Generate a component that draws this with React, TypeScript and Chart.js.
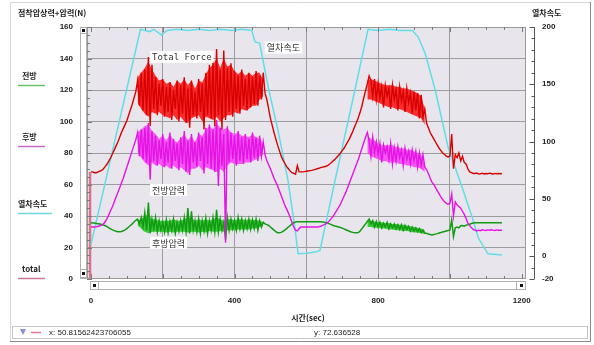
import React, { useEffect, useRef } from "react";
import { Chart, registerables } from "chart.js";

Chart.register(...registerables);

// sampling step of the recorded series (sec)
const TIME_STEP = 5;

// Total Force (left axis, N) – 0 … 1145 s
const totalForce = [
  68, 68, 67.5, 67.5, 68, 68.5, 69, 70, 71.5, 73,
  75, 77, 79.5, 82, 84.5, 87, 90, 93, 95.5, 98,
  100.5, 104, 107.5, 111, 115, 119, 126, 110, 131, 107,
  133, 104, 141, 97, 136, 108, 128, 104, 124, 110,
  127, 103, 122, 106, 125, 101, 120, 108, 126, 100,
  123, 105, 128, 99, 121, 96, 126, 104, 119, 102,
  127, 106, 124, 95, 131, 104, 136, 102, 138, 97,
  146, 104, 133, 95, 145, 101, 134, 106, 137, 103,
  132, 108, 129, 105, 133, 110, 127, 107, 131, 109,
  128, 111, 132, 110, 129, 114, 131, 118, 114, 108,
  102, 97.5, 93, 89, 85, 81.5, 78, 75.5, 73.5, 71.5,
  70, 68.5, 67.5, 67, 66.5, 72, 68, 68, 68, 68.2,
  68.4, 68.6, 68.8, 69, 69.3, 69.6, 70, 70.3, 70.7, 71,
  71.3, 71.6, 72.2, 73, 74, 75, 76, 77.3, 78.6, 80,
  81.5, 83, 85, 87, 89, 91.5, 94, 97, 99.5, 102.5,
  106, 110, 115, 119.5, 124, 129, 126, 116, 127, 114,
  124, 115, 122, 109, 123, 116, 121, 108, 123, 114,
  120, 107, 122, 113, 119, 106, 121, 112, 118, 105,
  119, 107, 118, 102, 117, 103, 108, 99, 96, 93,
  91, 89, 87, 85, 83, 81.5, 80, 79, 78, 77.5,
  78, 92, 70, 79, 77, 80, 75, 78, 74, 73,
  70, 68, 67.5, 67, 67, 67.3, 66.6, 66.8, 67.2, 66.7,
  67, 66.8, 67.2, 67, 66.5, 67, 66.8, 67, 66.8, 67,
];

// 후방 (magenta, left axis)
const rearPressure = [
  33, 33, 33, 33.2, 33.5, 33.8, 34.2, 35, 36.5, 38.5,
  41, 43.5, 46, 49, 52, 55, 58, 61, 64, 67.5,
  71, 74.5, 78, 81.5, 85, 88.5, 93, 78, 95, 76,
  96, 74, 99, 63, 94, 75, 91, 72, 88, 76,
  92, 71, 87, 74, 93, 70, 89, 75, 86, 69,
  90, 73, 94, 68, 88, 66, 92, 74, 87, 71,
  93, 75, 90, 67, 96, 73, 98, 70, 95, 68,
  101, 59, 96, 72, 92, 23, 97, 74, 93, 76,
  91, 72, 94, 75, 90, 73, 92, 76, 89, 74,
  93, 77, 90, 75, 91, 78, 87, 79, 75, 72.5,
  70, 67, 64, 61.5, 59, 56, 53, 50, 47, 44.5,
  42, 39, 36, 33, 31, 30.5, 32, 33, 33, 33,
  33, 33, 33, 33, 33, 33, 33, 33.2, 33.5, 34,
  34.5, 35.2, 36, 37.2, 38.5, 40, 41.8, 43.5, 45.5, 47.5,
  50, 52.5, 55, 58, 61, 64, 67, 70, 73, 76,
  79.5, 83, 86.5, 90, 93, 88, 78, 90, 80, 87,
  79, 86, 74, 85, 80, 84, 76, 86, 73, 83,
  75, 84, 77, 82, 72, 83, 76, 81, 73, 82,
  75, 81, 71, 80, 72, 79, 71, 69.5, 67, 64,
  61.5, 60, 58, 56, 54, 52, 50.5, 49, 48, 47.5,
  48, 54, 40, 49, 47, 46, 45, 43, 41, 38.5,
  35.5, 34, 32.5, 31.5, 31, 30.5, 31, 30.7, 31.3, 31,
  30.8, 31.2, 31, 31.3, 31, 30.8, 31.2, 31, 31, 31,
];

// 전방 (green, left axis)
const frontPressure = [
  35.7, 35.6, 35.5, 35.3, 35.1, 34.9, 34.6, 34.3, 33.8, 33.2,
  32.5, 31.8, 31.2, 30.7, 30.3, 30, 30, 30.2, 30.6, 31.2,
  32, 33, 34, 35, 36.2, 37.3, 38, 35, 39, 33,
  42, 31, 48.5, 29, 38, 32, 39, 30, 37, 31,
  36, 30, 37.5, 29.5, 36.5, 31, 38, 29, 36, 30.5,
  37, 31, 39, 30, 45, 29, 43, 31, 37, 30,
  38, 29, 37, 30.5, 38.5, 29, 37, 31, 39, 30,
  44, 30, 38, 31, 36, 25, 39, 31, 38, 32,
  37, 31, 39, 32, 38, 31, 37, 32, 38, 31.5,
  37.5, 32, 38, 31, 37, 33, 36, 35, 34.5, 34,
  33, 32, 31, 30, 29.4, 29.3, 29.6, 30.3, 31, 32,
  33, 34, 35, 35.7, 36.2, 36.3, 36.3, 36.3, 36.3, 36.3,
  36.3, 36.3, 36.3, 36.3, 36.3, 36.3, 36.3, 36.3, 36.3, 36.2,
  36.1, 35.8, 35.4, 35, 34.5, 34, 33.6, 33.3, 33, 32.7,
  32.3, 31.8, 31.3, 30.8, 30.3, 29.9, 29.6, 29.4, 29.3, 29.5,
  30.5, 32, 33.5, 35, 36.5, 38, 35, 37, 33, 36.5,
  33, 36, 32.5, 35.5, 33, 36, 32, 35, 32.5, 35,
  32, 34.5, 31.5, 34.5, 31, 34, 31.5, 33.5, 30.5, 33,
  30.5, 32.5, 30, 32, 29.5, 31, 29, 29, 28.5, 28.3,
  28, 28.2, 28.5, 28.8, 29.2, 29.5, 29.9, 30.2, 30.5, 30.8,
  31, 37.5, 27, 32.5, 33, 32.5, 33.8, 34, 33.5, 34.2,
  34.4, 34.8, 35.2, 35.5, 35.7, 35.7, 35.7, 35.7, 35.7, 35.7,
  35.7, 35.7, 35.7, 35.7, 35.7, 35.7, 35.7, 35.7, 35.7, 35.7,
];

// noise envelopes (upper / lower) of the noisy stretches
const bandTimesA = [
  130, 140, 150, 160, 170, 180, 190, 200, 210, 220, 230, 240, 250, 260, 270, 280, 290, 300,
  310, 320, 330, 340, 350, 360, 370, 380, 390, 400, 410, 420, 430, 440, 450, 460, 470, 480,
];
const totalHighA = [
  128, 131, 134, 138, 133, 129, 126, 127, 124, 125, 122, 126, 124, 127, 123, 126, 121, 126,
  125, 130, 134, 136, 140, 134, 140, 135, 136, 132, 130, 132, 129, 131, 129, 131, 131, 126,
];
const totalLowA = [
  112, 108, 105, 103, 106, 105, 106, 104, 103, 102, 104, 101, 103, 100, 99, 102, 103, 104,
  100, 103, 102, 101, 103, 100, 102, 104, 104, 106, 105, 108, 107, 108, 110, 110, 114, 116,
];
const rearHighA = [
  93, 95, 97, 98, 94, 92, 89, 91, 88, 92, 88, 87, 89, 92, 88, 91, 87, 92,
  91, 95, 97, 95, 99, 96, 95, 96, 93, 92, 93, 91, 91, 90, 92, 90, 89, 86,
];
const rearLowA = [
  80, 77, 74, 72, 74, 72, 73, 71, 72, 70, 72, 70, 71, 69, 67, 70, 70, 72,
  69, 71, 70, 69, 68, 70, 68, 72, 74, 73, 73, 73, 74, 74, 75, 76, 78, 79,
];
const frontHighA = [
  37, 38, 40, 41, 38, 38, 37, 37, 37, 37, 38, 37, 37, 38, 39, 39, 37, 38,
  37, 38, 37, 38, 39, 38, 37, 38, 38, 37.5, 38, 38, 37.5, 38, 37.5, 37.5, 37, 36,
];
const frontLowA = [
  34, 32, 30, 29, 30, 30, 30, 30, 29.5, 30, 29.5, 30, 30, 30, 29.5, 30, 30, 29.5,
  30, 29.5, 30.5, 30, 30, 30.5, 30, 31, 31, 31, 31.5, 31.5, 31.5, 31.5, 32, 32, 33, 34,
];
const bandTimesB = [770, 780, 790, 800, 810, 820, 830, 840, 850, 860, 870, 880, 890, 900, 910, 920, 930];
const totalHighB = [126, 127, 126, 125, 124, 123, 123, 123, 122, 122, 121, 121, 120, 119, 118, 116, 108];
const totalLowB = [114, 114, 113, 112, 111, 110, 109, 109, 108, 108, 107, 106, 105, 104, 103, 102, 98];
const rearHighB = [91, 89, 88, 86, 85, 85, 85, 85, 84, 83, 83, 82, 82, 81, 80, 79, 72];
const rearLowB = [80, 78, 77, 76, 75, 75, 74, 74, 74, 73, 73, 72, 72, 71, 71, 70, 68];
const frontHighB = [37, 37, 36.5, 36, 36, 35.5, 35.5, 35, 35, 34.5, 34.5, 34, 33.5, 33, 32.5, 32, 31];
const frontLowB = [33, 33, 32.5, 32.5, 32, 32, 31.5, 31.5, 31, 31, 30.5, 30.5, 30, 29.5, 29.5, 29, 28.5];

// 열차속도 (cyan, right axis)
const speedTimes = [
  0, 138, 150, 163, 175, 197, 212, 240, 270, 300, 330, 360, 390, 420, 448,
  457, 470, 494, 521, 549, 568, 577, 600, 625, 638, 680, 727, 772, 800, 830,
  860, 896, 912, 931, 959, 995, 1034, 1062, 1079, 1106, 1145,
];
const speedValues = [
  10, 198, 197, 196, 198, 193, 197, 198, 197, 198, 197, 198, 197, 198, 197,
  187, 186, 147, 110, 66, 25, 2, 2.5, 3.5, 5, 66, 133, 198, 197, 198,
  197, 197, 191, 177, 145, 95, 60, 34, 16, 2, 1,
];

// "total" trace at the left edge
const totalTimes = [-2.5, -2.5];
const totalValues = [0, 68];

const xTickValues = [0, 200, 400, 600, 800, 1000, 1200];
const xLabelValues = [0, 400, 800, 1200];
const leftTickValues = [0, 20, 40, 60, 80, 100, 120, 140, 160];
const rightTickValues = [-20, 0, 50, 100, 150, 200];

const legendNames = ["전방", "후방", "열차속도", "total"];
const leftTitle = "점착압상력+압력(N)";
const rightTitle = "열차속도";
const xTitle = "시간(sec)";
const annotations = [
  { text: "Total Force", t: 170, v: 141, mono: true },
  { text: "열차속도", t: 490, v: 147, mono: false },
  { text: "전방압력", t: 170, v: 56.5, mono: false },
  { text: "후방압력", t: 170, v: 23, mono: false },
];
const statusX = "x: 50.81562423706055";
const statusY = "y: 72.636528";

const COLORS = {
  red: "#d80000",
  redFill: "rgba(248,30,30,0.92)",
  magenta: "#e414e4",
  magentaFill: "rgba(246,70,246,0.9)",
  green: "#139a13",
  greenFill: "rgba(40,196,40,0.9)",
  cyan: "#62dde6",
  total: "rgba(214,96,120,0.85)",
};

const KR = "'Noto Sans CJK KR', 'Liberation Sans', sans-serif";
const SANS = "'Liberation Sans', Arial, sans-serif";

const decor = {
  id: "decor",
  beforeDraw(chart: any) {
    const { ctx, chartArea: a, width, height } = chart;
    ctx.save();
    ctx.fillStyle = "#ffffff";
    ctx.fillRect(0, 0, width, height);
    ctx.lineWidth = 1;
    ctx.strokeStyle = "#d6d6d6";
    ctx.beginPath();
    ctx.moveTo(10.5, 341);
    ctx.lineTo(10.5, 2.5);
    ctx.lineTo(590, 2.5);
    ctx.stroke();
    ctx.strokeStyle = "#8a8a8a";
    ctx.beginPath();
    ctx.moveTo(590.5, 2);
    ctx.lineTo(590.5, 341.5);
    ctx.lineTo(10, 341.5);
    ctx.stroke();
    ctx.fillStyle = "#e8e6ec";
    ctx.fillRect(a.left, a.top, a.right - a.left, a.bottom - a.top);
    ctx.restore();
  },
  afterDatasetsDraw(chart: any) {
    const { ctx, chartArea: a, scales } = chart;
    const xs = scales.x;
    const yl = scales.y;
    const yr = scales.y1;
    ctx.save();
    ctx.strokeStyle = "#9a9a9a";
    ctx.lineWidth = 1;
    ctx.strokeRect(a.left + 0.5, a.top + 0.5, a.right - a.left - 1, a.bottom - a.top - 1);
    ctx.strokeStyle = "#7a7a7a";
    ctx.beginPath();
    for (let v = 0; v <= 160; v += 5) {
      const y = Math.round(yl.getPixelForValue(v)) + 0.5;
      const len = v % 20 === 0 ? 5 : 3;
      ctx.moveTo(a.left, y);
      ctx.lineTo(a.left + len, y);
    }
    for (let t = 0; t <= 1200; t += 50) {
      const x = Math.round(xs.getPixelForValue(t)) + 0.5;
      const len = t % 200 === 0 ? 5 : 3;
      ctx.moveTo(x, a.top);
      ctx.lineTo(x, a.top + len);
      ctx.moveTo(x, a.bottom);
      ctx.lineTo(x, a.bottom - len);
    }
    ctx.stroke();
    const rx = 534.5;
    ctx.strokeStyle = "#555";
    ctx.beginPath();
    ctx.moveTo(rx, a.top);
    ctx.lineTo(rx, a.bottom);
    for (let s = -20; s <= 200; s += 10) {
      const y = Math.round(yr.getPixelForValue(s)) + 0.5;
      const major = rightTickValues.includes(s);
      ctx.moveTo(rx, y);
      ctx.lineTo(rx - (major ? 5 : 3), y);
    }
    ctx.stroke();
    for (const an of annotations) {
      const x = xs.getPixelForValue(an.t);
      const y = yl.getPixelForValue(an.v);
      ctx.font = an.mono ? "9px 'DejaVu Sans Mono', monospace" : `9px ${KR}`;
      const w = ctx.measureText(an.text).width;
      ctx.fillStyle = "#ffffff";
      ctx.fillRect(x - 2, y - 6, w + 4, 12);
      ctx.fillStyle = "#333";
      ctx.textBaseline = "middle";
      ctx.textAlign = "left";
      ctx.fillText(an.text, x, y + 0.5);
    }
    ctx.restore();
  },
  afterDraw(chart: any) {
    const { ctx, chartArea: a } = chart;
    ctx.save();
    ctx.textBaseline = "middle";
    ctx.fillStyle = "#222";
    ctx.font = `bold 8px ${KR}`;
    ctx.textAlign = "left";
    ctx.fillText(leftTitle, 18, 13);
    ctx.fillText(rightTitle, 532, 13);
    ctx.textAlign = "center";
    ctx.fillText(xTitle, 308, 318);
    const legendColors = ["#66c066", "#c868c8", "#6cd8e0", "#c87890"];
    const legendY = [76, 137, 204, 269];
    legendNames.forEach((name, i) => {
      ctx.fillStyle = "#222";
      ctx.font = `bold 8px ${KR}`;
      ctx.textAlign = "left";
      ctx.fillText(name, i === 2 ? 18 : 22, legendY[i]);
      ctx.strokeStyle = legendColors[i];
      ctx.lineWidth = 1.5;
      ctx.beginPath();
      ctx.moveTo(18, legendY[i] + 9.5);
      ctx.lineTo(i === 2 ? 52 : 45, legendY[i] + 9.5);
      ctx.stroke();
    });
    ctx.lineWidth = 1;
    ctx.strokeStyle = "#b0b0b0";
    ctx.fillStyle = "#ffffff";
    ctx.fillRect(80, a.top, 6, a.bottom - a.top);
    ctx.strokeRect(80.5, a.top + 0.5, 6, a.bottom - a.top - 1);
    ctx.strokeRect(80.5, a.top + 0.5, 6, 6);
    ctx.strokeRect(80.5, a.bottom - 9.5, 6, 8);
    ctx.fillStyle = "#111";
    ctx.fillRect(82, a.top + 2, 3, 3);
    ctx.fillRect(82, a.bottom - 7, 3, 3);
    ctx.fillStyle = "#ffffff";
    ctx.fillRect(90, 281, a.right - 90, 8);
    ctx.strokeRect(90.5, 281.5, a.right - 91, 8);
    ctx.strokeRect(90.5, 281.5, 8, 8);
    ctx.strokeRect(a.right - 9.5, 281.5, 9, 8);
    ctx.fillStyle = "#111";
    ctx.fillRect(93, 284, 3, 3);
    ctx.fillRect(a.right - 6, 284, 3, 3);
    ctx.fillStyle = "#ffffff";
    ctx.strokeStyle = "#c4c4c4";
    ctx.fillRect(12, 326, 575, 12);
    ctx.strokeRect(12.5, 326.5, 575, 12);
    ctx.fillStyle = "#8c8cd8";
    ctx.beginPath();
    ctx.moveTo(20, 329);
    ctx.lineTo(26, 329);
    ctx.lineTo(23, 335);
    ctx.closePath();
    ctx.fill();
    ctx.strokeStyle = "#e07a98";
    ctx.lineWidth = 1.5;
    ctx.beginPath();
    ctx.moveTo(31, 332.5);
    ctx.lineTo(41, 332.5);
    ctx.stroke();
    ctx.fillStyle = "#222";
    ctx.font = `8px ${SANS}`;
    ctx.textAlign = "left";
    ctx.fillText(statusX, 49, 332.5);
    ctx.fillText(statusY, 314, 332.5);
    ctx.restore();
  },
};

export default function App() {
  const ref = useRef<HTMLCanvasElement | null>(null);

  useEffect(() => {
    const canvas = ref.current;
    if (!canvas) return;
    const times = totalForce.map((_, i) => i * TIME_STEP);
    const pts = (xsArr: number[], ysArr: number[]) =>
      ysArr.map((y, i) => ({ x: xsArr[i], y }));
    const tickFont = { family: SANS, size: 8, weight: "bold" as const };

    const datasets: any[] = [
      { label: "Total Force", data: pts(times, totalForce), borderColor: COLORS.red, borderWidth: 1.4, yAxisID: "y" },
      { label: "후방", data: pts(times, rearPressure), borderColor: COLORS.magenta, borderWidth: 1.4, yAxisID: "y" },
      { label: "전방", data: pts(times, frontPressure), borderColor: COLORS.green, borderWidth: 1.5, yAxisID: "y" },
      { label: "열차속도", data: pts(speedTimes, speedValues), borderColor: COLORS.cyan, borderWidth: 1.5, yAxisID: "y1" },
      { label: "total", data: pts(totalTimes, totalValues), borderColor: COLORS.total, borderWidth: 2.5, yAxisID: "y" },
    ];
    const bands: [number[], number[], number[], string][] = [
      [bandTimesA, totalHighA, totalLowA, COLORS.redFill],
      [bandTimesB, totalHighB, totalLowB, COLORS.redFill],
      [bandTimesA, rearHighA, rearLowA, COLORS.magentaFill],
      [bandTimesB, rearHighB, rearLowB, COLORS.magentaFill],
      [bandTimesA, frontHighA, frontLowA, COLORS.greenFill],
      [bandTimesB, frontHighB, frontLowB, COLORS.greenFill],
    ];
    for (const [bt, hi, lo, col] of bands) {
      datasets.push({ label: "band-hi", data: pts(bt, hi), borderWidth: 0, borderColor: "rgba(0,0,0,0)", yAxisID: "y", fill: false });
      datasets.push({ label: "band-lo", data: pts(bt, lo), borderWidth: 0, borderColor: "rgba(0,0,0,0)", backgroundColor: col, yAxisID: "y", fill: "-1" });
    }

    const chart = new Chart(canvas, {
      type: "line",
      data: { datasets },
      options: {
        animation: false,
        responsive: false,
        devicePixelRatio: 1,
        events: [],
        layout: { padding: { top: 27, left: 0, right: 0, bottom: 0 } },
        elements: { point: { radius: 0 }, line: { tension: 0 } },
        plugins: { legend: { display: false }, tooltip: { enabled: false } },
        scales: {
          x: {
            type: "linear",
            min: -11,
            max: 1212,
            afterBuildTicks: (s: any) => {
              s.ticks = xTickValues.map((v) => ({ value: v }));
            },
            afterFit: (s: any) => {
              s.height = 66;
            },
            grid: {
              color: (c: any) =>
                c.tick && (c.tick.value === 0 || c.tick.value === 1200) ? "rgba(0,0,0,0)" : "#9c9c9c",
              drawTicks: false,
            },
            border: { display: false },
            ticks: {
              padding: 17,
              maxRotation: 0,
              autoSkip: false,
              color: "#222",
              font: tickFont,
              callback: (v: any) => (xLabelValues.includes(Number(v)) ? String(v) : ""),
            },
          },
          y: {
            type: "linear",
            position: "left",
            min: 0,
            max: 160,
            afterBuildTicks: (s: any) => {
              s.ticks = leftTickValues.map((v) => ({ value: v }));
            },
            afterFit: (s: any) => {
              s.width = 87;
            },
            grid: {
              color: (c: any) =>
                c.tick && (c.tick.value === 0 || c.tick.value === 160) ? "rgba(0,0,0,0)" : "#9c9c9c",
              drawTicks: false,
            },
            border: { display: false },
            ticks: { padding: 14, color: "#222", font: tickFont },
          },
          y1: {
            type: "linear",
            position: "right",
            min: -20,
            max: 200,
            afterBuildTicks: (s: any) => {
              s.ticks = rightTickValues.map((v) => ({ value: v }));
            },
            afterFit: (s: any) => {
              s.width = 68;
            },
            grid: { drawOnChartArea: false, drawTicks: false },
            border: { display: false },
            ticks: { padding: 16, color: "#222", font: tickFont },
          },
        },
      },
      plugins: [decor],
    });
    return () => chart.destroy();
  }, []);

  return (
    <div style={{ position: "absolute", left: 0, top: 0, width: 594, height: 345 }}>
      <canvas ref={ref} width={594} height={345} style={{ width: 594, height: 345, display: "block" }} />
    </div>
  );
}
